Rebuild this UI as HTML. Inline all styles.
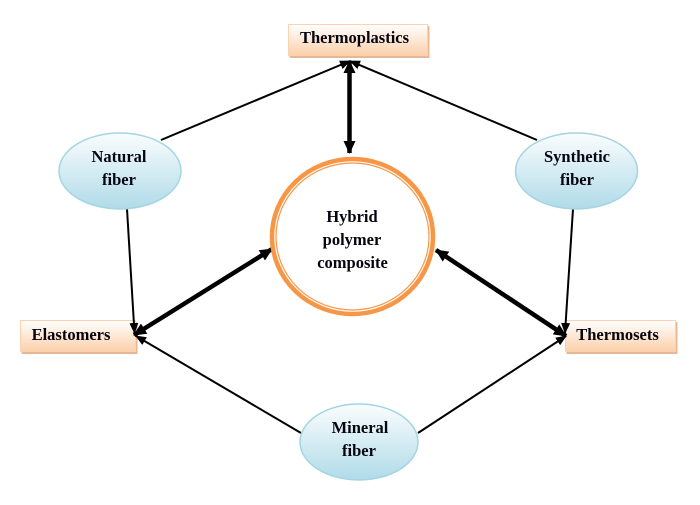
<!DOCTYPE html>
<html><head><meta charset="utf-8"><style>html,body{margin:0;padding:0;background:#fff}svg{display:block}text{font-family:"Liberation Serif",serif;font-weight:bold;font-size:16.500px;fill:#05050f;text-anchor:middle}</style></head><body>
<svg width="700" height="505" viewBox="0 0 700 505" xmlns="http://www.w3.org/2000/svg">
<defs>
<linearGradient id="o" x1="0" y1="0" x2="0" y2="1"><stop offset="0" stop-color="#fff"/><stop offset="1" stop-color="#fbd0aa"/></linearGradient>
<linearGradient id="b" x1="0" y1="0" x2="0" y2="1"><stop offset="0" stop-color="#fafdfe"/><stop offset="1" stop-color="#b0dbe8"/></linearGradient>
<marker id="a" markerWidth="11" markerHeight="9" refX="10" refY="4.500" orient="auto-start-reverse" markerUnits="userSpaceOnUse"><path d="M0 0L11 4.500L0 9z" fill="#000"/></marker>
<marker id="t" markerWidth="13" markerHeight="12" refX="12" refY="6" orient="auto-start-reverse" markerUnits="userSpaceOnUse"><path d="M0 0L13 6L0 12z" fill="#000"/></marker>
</defs>
<g stroke="#fbd3b0" stroke-width="1" fill="url(#o)">
<rect x="289.500" y="26" width="140" height="32" fill="#e8b795" stroke="none"/>
<rect x="288.500" y="24.500" width="139" height="31"/>
<rect x="21.500" y="322" width="116" height="32" fill="#e8b795" stroke="none"/>
<rect x="20.500" y="320.500" width="115" height="31"/>
<rect x="566.500" y="322" width="111" height="32" fill="#e8b795" stroke="none"/>
<rect x="565.500" y="320.500" width="110" height="31"/>
</g>
<g stroke="#000" fill="none">
<path d="M161 140L350 61" stroke-width="2" marker-end="url(#a)"/>
<path d="M537 140L350 61" stroke-width="2" marker-end="url(#a)"/>
<path d="M127 209L134.500 333" stroke-width="2" marker-end="url(#a)"/>
<path d="M573 209L565 333" stroke-width="2" marker-end="url(#a)"/>
<path d="M301 433L136 336" stroke-width="2" marker-end="url(#a)"/>
<path d="M418 433L566 336" stroke-width="2" marker-end="url(#a)"/>
<path d="M349.500 61L349.500 153" stroke-width="4.500" marker-start="url(#t)" marker-end="url(#t)"/>
<path d="M134 335L272 249" stroke-width="4.500" marker-start="url(#t)" marker-end="url(#t)"/>
<path d="M566 336L436 250" stroke-width="4.500" marker-start="url(#t)" marker-end="url(#t)"/>
</g>
<g stroke="#a4d4e2" stroke-width="1.500" fill="url(#b)">
<ellipse cx="120" cy="171" rx="61" ry="38"/>
<ellipse cx="576.500" cy="171" rx="61" ry="38"/>
<ellipse cx="359" cy="442" rx="59" ry="38"/>
</g>
<ellipse cx="352.500" cy="236.500" rx="80.500" ry="77.500" fill="#fff" stroke="#f79646" stroke-width="4.500"/>
<ellipse cx="352.500" cy="236.500" rx="76.500" ry="73.500" fill="none" stroke="#f79646" stroke-width="1.200"/>
<text x="354.500" y="43">Thermoplastics</text>
<text x="71" y="340">Elastomers</text>
<text x="617.500" y="340">Thermosets</text>
<text x="119" y="162">Natural</text><text x="119" y="185">fiber</text>
<text x="577" y="162">Synthetic</text><text x="577" y="185">fiber</text>
<text x="360" y="433">Mineral</text><text x="359" y="456">fiber</text>
<text x="352" y="222">Hybrid</text><text x="352" y="245">polymer</text><text x="352.500" y="268">composite</text>
</svg>
</body></html>
